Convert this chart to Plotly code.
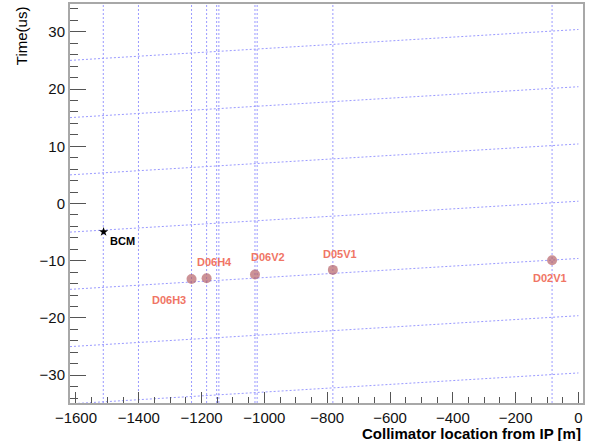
import plotly.graph_objects as go

# ---------------- data ----------------
C_LIGHT = 299.792458  # m/us (slope of the reference light-cone lines)

collimator_names = ["D06H3", "D06H4", "D06V2", "D05V1", "D02V1"]
collimator_x = [-1232, -1184, -1030, -782, -84]
collimator_t = [-13.2, -13.05, -12.4, -11.6, -9.9]

bcm_name = ["BCM"]
bcm_x = [-1512]
bcm_t = [-4.95]

vline_x = [-1513, -1401, -1232, -1184, -1152, -1145, -1030, -1023, -782, -84]
diag_intercepts = [30.4, 20.4, 10.4, 0.4, -9.6, -19.6, -29.6]   # t at x = 0

x_range = [-1619, 14.5]
y_range = [-34.85, 34.85]
x_ticks = [-1600, -1400, -1200, -1000, -800, -600, -400, -200, 0]
y_ticks = [-30, -20, -10, 0, 10, 20, 30]

# ---------------- figure ----------------
FONT = "Liberation Sans, Arial, Helvetica, sans-serif"
GRID = "#9a9aff"
fig = go.Figure()

for xv in vline_x:
    fig.add_trace(go.Scatter(x=[xv, xv], y=y_range, mode="lines",
                             line=dict(color=GRID, width=1, dash="2px,2px"),
                             hoverinfo="skip", showlegend=False))

x_line_start, x_line_end = x_range[0], 0
for b in diag_intercepts:
    fig.add_trace(go.Scatter(x=[x_line_start, x_line_end],
                             y=[x_line_start / C_LIGHT + b, x_line_end / C_LIGHT + b],
                             mode="lines",
                             line=dict(color=GRID, width=1, dash="2px,2px"),
                             hoverinfo="skip", showlegend=False))

fig.add_trace(go.Scatter(x=collimator_x, y=collimator_t, mode="markers",
                         marker=dict(size=10, color="rgba(180,95,100,0.68)",
                                     line=dict(width=0)),
                         text=collimator_names, showlegend=False))
fig.add_trace(go.Scatter(x=bcm_x, y=bcm_t, mode="markers",
                         marker=dict(size=7, color="black", symbol="star",
                                     line=dict(width=0)),
                         text=bcm_name, showlegend=False))

label_shift = {"D06H3": (-23, -21), "D06H4": (8, 16), "D06V2": (13, 17),
               "D05V1": (7, 15.5), "D02V1": (-2, -17.5)}
for name, xv, tv in zip(collimator_names, collimator_x, collimator_t):
    dx, dy = label_shift[name]
    fig.add_annotation(x=xv, y=tv, text="<b>%s</b>" % name, showarrow=False,
                       xshift=dx, yshift=dy,
                       font=dict(family=FONT, size=11, color="#f07565"))
for name, xv, tv in zip(bcm_name, bcm_x, bcm_t):
    fig.add_annotation(x=xv, y=tv, text="<b>%s</b>" % name, showarrow=False,
                       xshift=19, yshift=-9,
                       font=dict(family=FONT, size=11, color="black"))

# axis titles (ROOT style, aligned to axis ends)
fig.add_annotation(xref="paper", yref="paper", x=1.0, y=-30.5 / 401,
                   xanchor="right", yanchor="middle", showarrow=False,
                   text="<b>Collimator location from IP [m]</b>",
                   font=dict(family=FONT, size=15, color="black"))
fig.add_annotation(xref="paper", yref="paper", x=(21.7 - 70) / 513.3, y=1.0,
                   xanchor="center", yanchor="top", textangle=-90, showarrow=False,
                   text="Time(us)",
                   font=dict(family=FONT, size=15, color="black"))

axis_common = dict(showgrid=False, zeroline=False, showline=True, mirror=True,
                   linecolor="#a8a8a8", linewidth=2, ticks="inside",
                   tickcolor="#555555", tickwidth=1,
                   tickfont=dict(family=FONT, size=15, color="#111111"))
fig.update_xaxes(range=x_range, tickvals=x_ticks, ticklen=11,
                 minor=dict(ticks="inside", ticklen=6, dtick=50, tick0=0,
                            tickcolor="#555555", tickwidth=1),
                 **axis_common)
fig.update_yaxes(range=y_range, tickvals=y_ticks, ticklen=16,
                 minor=dict(ticks="inside", ticklen=8, dtick=2, tick0=0,
                            tickcolor="#555555", tickwidth=1),
                 **axis_common)

fig.update_layout(width=591, height=441,
                  margin=dict(l=70, r=8, t=2, b=38),
                  paper_bgcolor="white", plot_bgcolor="white",
                  showlegend=False)

fig.write_html("out.html", config={"displayModeBar": False})

# remove the default page margin so the 591x441 figure fills the window exactly
with open("out.html", "r", encoding="utf-8") as fh:
    html = fh.read()
html = html.replace("<head>", "<head><style>html,body{margin:0;padding:0;overflow:hidden;}</style>", 1)
with open("out.html", "w", encoding="utf-8") as fh:
    fh.write(html)
